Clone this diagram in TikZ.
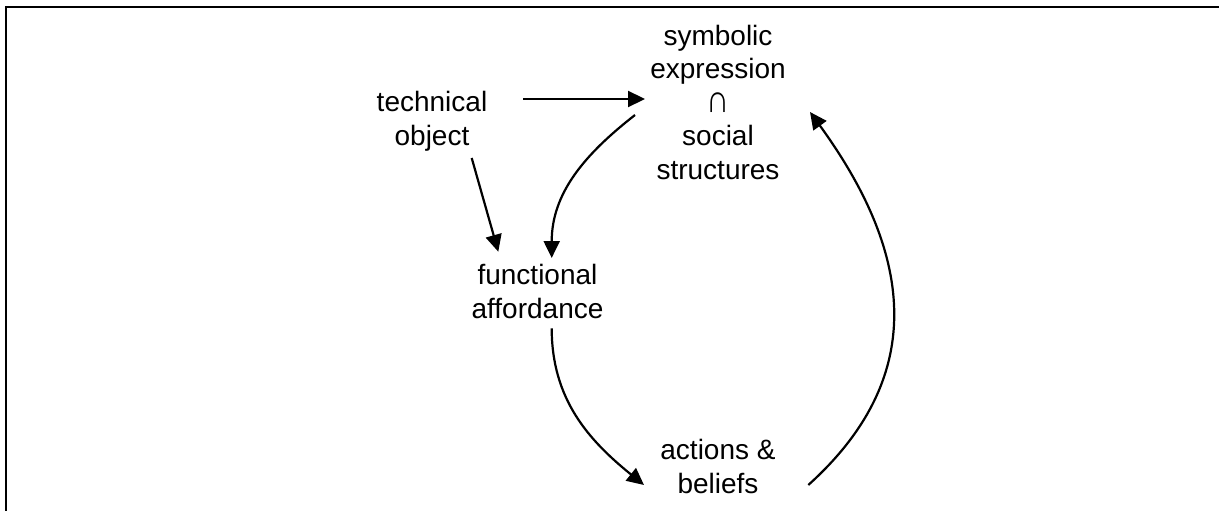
\documentclass[tikz,border=0pt]{standalone}
\usepackage{fontspec}
\setmainfont{Liberation Sans}
\usetikzlibrary{arrows.meta}
% taller intersection sign, as set in the concept label
\newcommand{\tallcap}{\smash{\scalebox{1.15}[1.4]{∩}}}
\begin{document}
\begin{tikzpicture}[x=1pt,y=1pt,
  label text/.style={font=\fontsize{28}{33.5}\selectfont, align=center, inner sep=0pt, anchor=base},
  arr/.style={line width=2.2pt, -{Triangle[length=17pt,width=16pt]}},
  frameline/.style={line width=2.2pt}]
\useasboundingbox (0,0) rectangle (1219,-511);
% open frame: top and left edges only
\draw[frameline] (1219,-7) -- (6,-7) -- (6,-511);

% concepts (anchored at the baseline of the last line)
\node[label text] (sym)  at (718,-179)   {symbolic\\expression\\\tallcap\\social\\structures};
\node[label text] (tech) at (432,-145)   {technical\\object};
\node[label text] (func) at (537.5,-318) {functional\\affordance};
\node[label text] (act)  at (718,-493)   {actions \&\\beliefs};

% relations
\draw[arr] ([shift={(91,46)}]tech.base) -- ([shift={(-73,80)}]sym.base);
\draw[arr] ([shift={(39.7,-13)}]tech.base) -- ([shift={(-39.2,66.3)}]func.base);
\draw[arr] ([shift={(-83,64)}]sym.base) to[out=218,in=90] ([shift={(14.2,60)}]func.base);
\draw[arr] ([shift={(14.2,-10.3)}]func.base) to[out=-90,in=141] ([shift={(-74,8)}]act.base);
\draw[arr] ([shift={(90.3,8)}]act.base) to[out=42,in=-54,looseness=1.15] ([shift={(92,67)}]sym.base);
\end{tikzpicture}
\end{document}
